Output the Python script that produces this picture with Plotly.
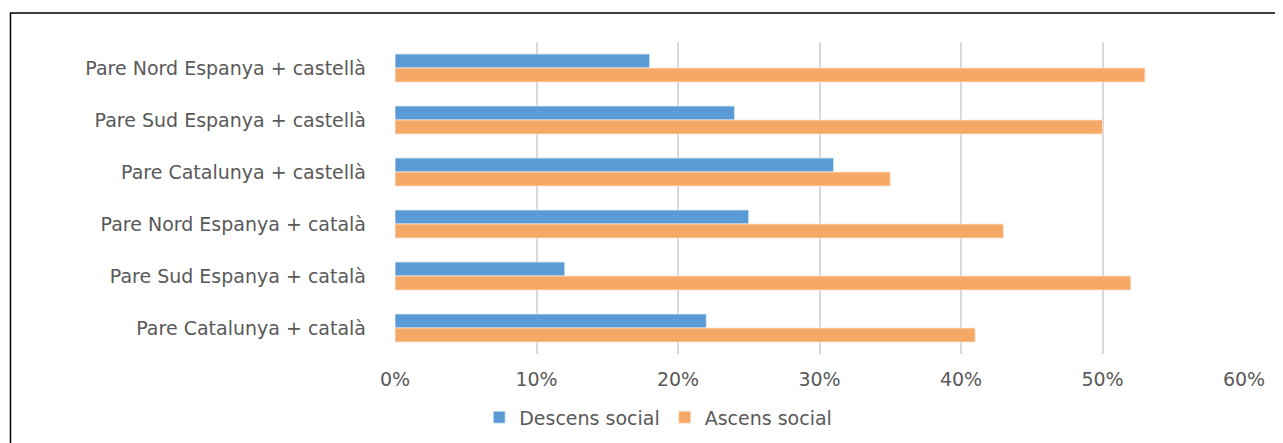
import plotly.graph_objects as go

categories = [
    "Pare Nord Espanya + castellà",
    "Pare Sud Espanya + castellà",
    "Pare Catalunya + castellà",
    "Pare Nord Espanya + català",
    "Pare Sud Espanya + català",
    "Pare Catalunya + català",
]
descens = [0.18, 0.24, 0.31, 0.25, 0.12, 0.22]
ascens = [0.53, 0.50, 0.35, 0.43, 0.52, 0.41]
tick_vals = [0, 0.1, 0.2, 0.3, 0.4, 0.5, 0.6]
tick_text = ["0%", "10%", "20%", "30%", "40%", "50%", "60%"]

FONT = "DejaVu Sans"
GREY = "#595959"
FS = 19

fig = go.Figure()
fig.add_trace(go.Bar(
    y=categories, x=descens, orientation="h", name="Descens social",
    marker=dict(color="#5B9BD5", line=dict(color="#E6F0FA", width=0.8)),
))
fig.add_trace(go.Bar(
    y=categories, x=ascens, orientation="h", name="Ascens social",
    marker=dict(color="#F6A866", line=dict(color="#FCE6D2", width=0.8)),
))

fig.update_layout(
    width=1283, height=443,
    margin=dict(l=387, r=47, t=34, b=97),
    paper_bgcolor="white", plot_bgcolor="white",
    barmode="group", bargap=0.46, bargroupgap=0,
    font=dict(family=FONT, size=FS, color=GREY),
    showlegend=True,
    legend=dict(orientation="h", x=0.31, xanchor="center", y=-0.203, yanchor="middle",
                font=dict(family=FONT, size=FS, color=GREY), itemwidth=30,
                traceorder="normal"),
)
fig.update_xaxes(
    range=[0, 0.6], tickvals=tick_vals, ticktext=tick_text,
    showgrid=True, gridcolor="#D9D9D9", gridwidth=2,
    zeroline=False, showline=False, ticks="", ticklabelstandoff=12,
    tickfont=dict(family=FONT, size=FS, color=GREY),
)
fig.update_yaxes(
    autorange="reversed", showgrid=False, zeroline=False, showline=False,
    ticks="", ticklabelstandoff=28,
    tickfont=dict(family=FONT, size=FS, color=GREY),
)
# outer chart border
fig.add_shape(type="rect", xref="paper", yref="paper",
              x0=-0.4529, x1=1.08, y0=-0.4, y1=1.093,
              line=dict(color="#000000", width=1.5), fillcolor="rgba(0,0,0,0)", layer="below")

fig.write_html("out.html")
